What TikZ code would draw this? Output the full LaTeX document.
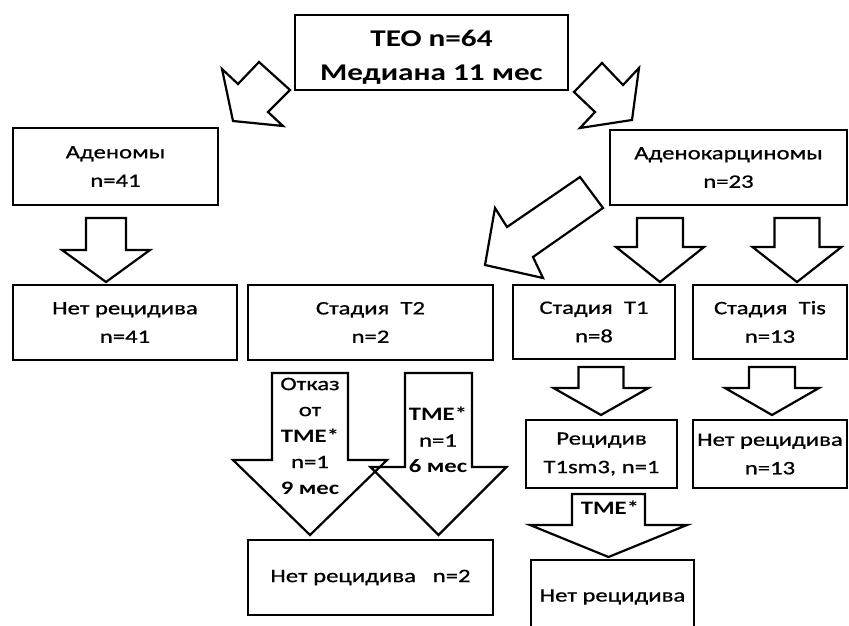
\documentclass[tikz,border=0pt]{standalone}
\usepackage{fontspec}
\setmainfont{Carlito}
\newfontfamily\cfont[FakeStretch=1.3, UprightFeatures={FakeBold=0.8}]{Carlito}
\tikzset{
  box/.style={draw, line width=2.2pt, inner sep=0pt, align=center,
    font=\cfont\fontsize{19}{28.5}\selectfont},
  topbox/.style={draw, line width=2.2pt, inner sep=0pt, align=center,
    font=\cfont\bfseries\fontsize{24}{34}\selectfont},
  blk/.style={draw, line width=2.2pt, line join=miter},
  atext/.style={align=center, inner sep=0pt,
    font=\cfont\fontsize{19}{26}\selectfont},
}
% cx, top, shaft half width, head y, head half width, tip y
\newcommand\downblk[6]{%
  \draw[blk] ({#1-#3},#2) -- ({#1+#3},#2) -- ({#1+#3},#4) -- ({#1+#5},#4)
    -- (#1,#6) -- ({#1-#5},#4) -- ({#1-#3},#4) -- cycle;}
\begin{document}
\begin{tikzpicture}[x=1pt,y=-1pt]
\useasboundingbox[fill=white] (0,0) rectangle (849,626);

% boxes
\node[topbox, minimum width=273pt, minimum height=75pt] (teo) at (431.5,52.5) {};
\node[topbox, draw=none] (teotext) at (431.5,57) {TEO n=64\\Медиана 11 мес};
\node[box, minimum width=205pt, minimum height=77pt] (aden) at (115.5,166.5)
  {Аденомы\\n=41};
\node[box, minimum width=237pt, minimum height=75pt] (adenok) at (728.5,167.5)
  {Аденокарциномы\\n=23};
\node[box, minimum width=224pt, minimum height=75pt] (net41) at (125,322.5)
  {Нет рецидива\\n=41};
\node[box, minimum width=245pt, minimum height=75pt] (t2) at (370.5,322.5)
  {Стадия\ \ T2\\n=2};
\node[box, minimum width=162pt, minimum height=74pt] (t1) at (594,322)
  {Стадия\ \ T1\\n=8};
\node[box, minimum width=154pt, minimum height=74pt] (tis) at (770,322)
  {Стадия\ \ Tis\\n=13};
\node[box, minimum width=151pt, minimum height=68pt] (rec) at (601.5,454)
  {Рецидив\\T1sm3, n=1};
\node[box, minimum width=154pt, minimum height=68pt] (net13) at (770,454)
  {Нет рецидива\\n=13};
\node[box, minimum width=245pt, minimum height=75pt] (net2) at (370.5,577.5)
  {Нет рецидива\ \ \ n=2};
\node[box, minimum width=163pt, minimum height=74pt] (netlast) at (612.5,597)
  {Нет рецидива};

% diagonal block arrows from the top box
\draw[blk] (233,121) -- (222,69) -- (238,84) -- (259,62) -- (290,90)
  -- (268,112) -- (283,126) -- cycle;
\draw[blk] (632,120) -- (639,68) -- (623,85) -- (602,63) -- (574,92)
  -- (595,112) -- (580,128) -- cycle;
% big diagonal arrow to stage T2
\draw[blk] (485,265) -- (495,208) -- (507,227) -- (580,177) -- (603,208)
  -- (533,257) -- (543,278) -- cycle;

% vertical block arrows
\downblk{106}{218}{20}{250}{44}{282}
\downblk{660}{218}{23}{247}{44}{282}
\downblk{797}{218}{22.5}{247}{44.5}{282}
\downblk{601}{367}{22.5}{388}{47.5}{415}
\downblk{772}{367}{23}{388}{47}{415}
\downblk{608.5}{494}{36.5}{525}{78.5}{557}
\downblk{310}{373}{38}{460}{77}{535}
\downblk{438.5}{373}{33.5}{467}{68}{535}

% texts inside arrows
\node[atext] (refuse) at (310,436)
  {Отказ\\от\\\textbf{TME*}\\n=1\\\textbf{9 мес}};
\node[atext] (tme1) at (438,440)
  {\textbf{TME*}\\n=1\\\textbf{6 мес}};
\node[atext] (tme2) at (610,508) {\textbf{TME*}};
\end{tikzpicture}
\end{document}
